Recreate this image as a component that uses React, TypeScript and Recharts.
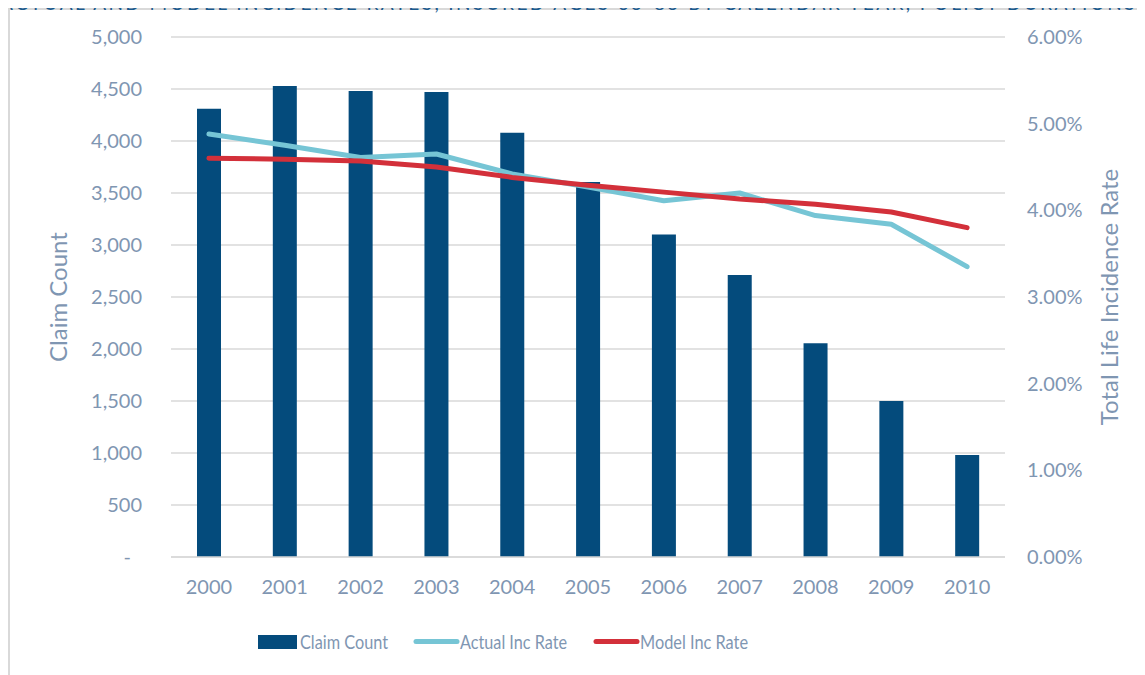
import React from 'react';
import {
  ComposedChart,
  Bar,
  Line,
  XAxis,
  YAxis,
  CartesianGrid,
} from 'recharts';

// Calendar years on the category axis
const years = ['2000', '2001', '2002', '2003', '2004', '2005', '2006', '2007', '2008', '2009', '2010'];

// Claim counts (left axis)
const claimCounts = [4310, 4530, 4480, 4470, 4080, 3605, 3100, 2712, 2055, 1500, 980];

// Incidence rates (right axis)
const actualIncRate = [0.0488, 0.0475, 0.0461, 0.0465, 0.0442, 0.0427, 0.0411, 0.042, 0.0394, 0.0384, 0.0335];
const modelIncRate = [0.046, 0.0459, 0.0457, 0.045, 0.0438, 0.0429, 0.0421, 0.0413, 0.0407, 0.0398, 0.038];

const countTicks = [0, 500, 1000, 1500, 2000, 2500, 3000, 3500, 4000, 4500, 5000];
const rateTicks = [0, 0.01, 0.02, 0.03, 0.04, 0.05, 0.06];

const chartTitle =
  'ACTUAL AND MODEL INCIDENCE RATES, INSURED AGES 65-85 BY CALENDAR YEAR, POLICY DURATIONS 1';

const data = years.map((year, i) => ({
  year,
  claims: claimCounts[i],
  actual: actualIncRate[i],
  model: modelIncRate[i],
}));

const FONT = 'Lato, "Open Sans", sans-serif';
const TEXT_COLOR = '#7f96b2';
const GRID_COLOR = '#d9d9d9';
const BAR_COLOR = '#044b7c';
const ACTUAL_COLOR = '#76c5d5';
const MODEL_COLOR = '#d3303a';

const CountTick = (props: any) => {
  const { x, y, payload } = props;
  const v = payload.value as number;
  const label = v === 0 ? '-' : v.toLocaleString('en-US');
  return (
    <text
      x={v === 0 ? x - 11 : x}
      y={y}
      dy="0.355em"
      textAnchor="end"
      fill={TEXT_COLOR}
      fontFamily={FONT}
      fontSize={20}
    >
      {label}
    </text>
  );
};

const legendItems = [
  { kind: 'bar', label: 'Claim Count', color: BAR_COLOR, sx: 258, sw: 39, tx: 300, tw: 88 },
  { kind: 'line', label: 'Actual Inc Rate', color: ACTUAL_COLOR, sx: 416, sw: 41, tx: 460, tw: 107 },
  { kind: 'line', label: 'Model Inc Rate', color: MODEL_COLOR, sx: 596, sw: 41, tx: 640, tw: 108 },
];

const ChartLegend = () => (
  <svg width={1145} height={50} style={{ position: 'absolute', left: 0, top: 620 }}>
    {legendItems.map((it) => (
      <g key={it.label}>
        {it.kind === 'bar' ? (
          <rect x={it.sx} y={15} width={it.sw} height={14} fill={it.color} />
        ) : (
          <line
            x1={it.sx}
            x2={it.sx + it.sw}
            y1={21.5}
            y2={21.5}
            stroke={it.color}
            strokeWidth={5}
            strokeLinecap="round"
          />
        )}
        <text
          x={it.tx}
          y={29}
          fill={TEXT_COLOR}
          fontFamily={FONT}
          fontSize={20}
          textLength={it.tw}
          lengthAdjust="spacingAndGlyphs"
        >
          {it.label}
        </text>
      </g>
    ))}
  </svg>
);

// Page heading, mostly above the visible frame
const Heading = () => (
  <div
    style={{
      position: 'absolute',
      left: 0,
      top: -7,
      width: 1500,
      whiteSpace: 'nowrap',
      fontFamily: FONT,
      fontSize: 19,
      lineHeight: '19px',
      letterSpacing: '2.4px',
      color: '#1b5a8e',
      zIndex: 5,
    }}
  >
    {chartTitle}
  </div>
);

export default function App() {
  return (
    <div
      style={{
        position: 'relative',
        width: 1145,
        height: 675,
        margin: '-8px 0 0 -8px',
        overflow: 'hidden',
        background: '#ffffff',
      }}
    >
      <div
        style={{
          position: 'absolute',
          left: 8,
          top: 8,
          width: 1160,
          height: 700,
          borderLeft: `2px solid ${GRID_COLOR}`,
          borderTop: `2px solid ${GRID_COLOR}`,
          boxSizing: 'border-box',
        }}
      />
      <div style={{ position: 'absolute', left: 0, top: 0 }}>
        <ComposedChart
          width={1145}
          height={675}
          data={data}
          margin={{ top: 37, right: 0, bottom: 88, left: 0 }}
          barCategoryGap={0}
        >
          <CartesianGrid
            yAxisId="left"
            vertical={false}
            stroke={GRID_COLOR}
            strokeWidth={1.5}
          />
          <XAxis
            dataKey="year"
            height={30}
            axisLine={{ stroke: GRID_COLOR, strokeWidth: 1.5 }}
            tickLine={false}
            tickSize={0}
            tickMargin={23}
            tick={{ fill: TEXT_COLOR, fontFamily: FONT, fontSize: 20 }}
            interval={0}
          />
          <YAxis
            yAxisId="left"
            orientation="left"
            width={171}
            domain={[0, 5000]}
            ticks={countTicks}
            interval={0}
            axisLine={false}
            tickLine={false}
            tickSize={0}
            tickMargin={29}
            tick={<CountTick />}
            label={{
              value: 'Claim Count',
              angle: -90,
              position: 'insideLeft',
              offset: 0,
              dx: 58,
              fill: TEXT_COLOR,
              fontFamily: FONT,
              fontSize: 24,
              style: { textAnchor: 'middle' },
            }}
          />
          <YAxis
            yAxisId="right"
            orientation="right"
            width={140}
            domain={[0, 0.06]}
            ticks={rateTicks}
            interval={0}
            axisLine={false}
            tickLine={false}
            tickSize={0}
            tickMargin={22}
            tickFormatter={(v: number) => `${(v * 100).toFixed(2)}%`}
            tick={{ fill: TEXT_COLOR, fontFamily: FONT, fontSize: 20 }}
            label={{
              value: 'Total Life Incidence Rate',
              angle: -90,
              position: 'insideRight',
              offset: 0,
              dx: -36,
              fill: TEXT_COLOR,
              fontFamily: FONT,
              fontSize: 24,
              style: { textAnchor: 'middle' },
            }}
          />
          <Bar
            yAxisId="left"
            dataKey="claims"
            name="Claim Count"
            fill={BAR_COLOR}
            barSize={24}
            isAnimationActive={false}
          />
          <Line
            yAxisId="right"
            dataKey="actual"
            name="Actual Inc Rate"
            stroke={ACTUAL_COLOR}
            strokeWidth={5}
            strokeLinecap="round"
            strokeLinejoin="round"
            dot={false}
            activeDot={false}
            type="linear"
            isAnimationActive={false}
          />
          <Line
            yAxisId="right"
            dataKey="model"
            name="Model Inc Rate"
            stroke={MODEL_COLOR}
            strokeWidth={5}
            strokeLinecap="round"
            strokeLinejoin="round"
            dot={false}
            activeDot={false}
            type="linear"
            isAnimationActive={false}
          />
        </ComposedChart>
      </div>
      <ChartLegend />
      <Heading />
    </div>
  );
}
